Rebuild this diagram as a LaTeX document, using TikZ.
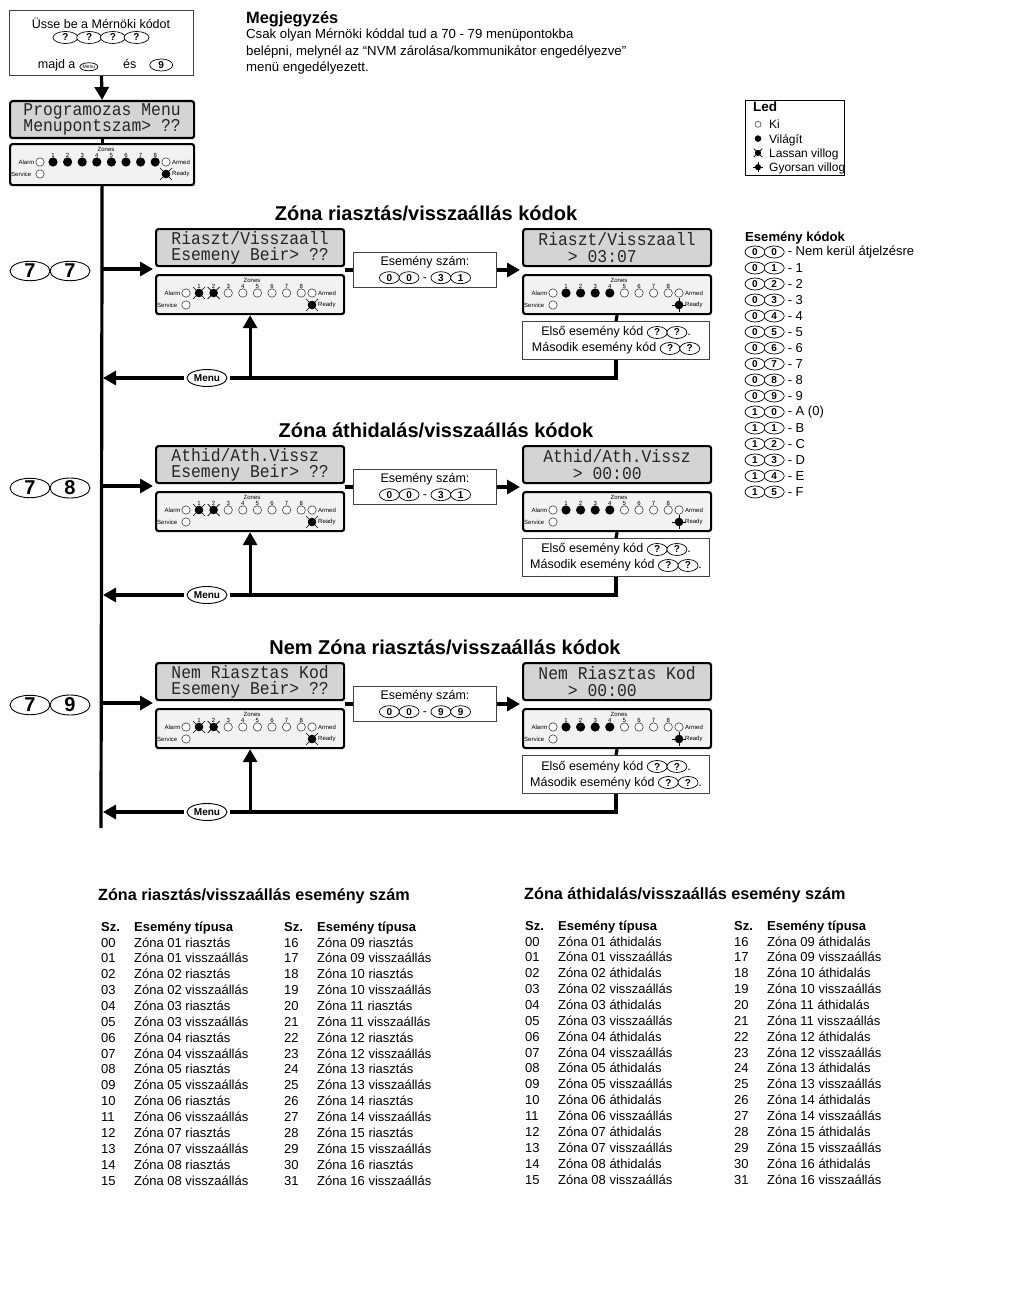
\documentclass[tikz,border=0pt]{standalone}
\usepackage{fontspec}
\setmainfont{Liberation Sans}
\newfontfamily\lcdfont[FakeStretch=0.91]{Liberation Mono}
\usetikzlibrary{arrows.meta, positioning, calc, shapes.geometric}

\definecolor{lcdgray}{HTML}{D4D4D4}
\definecolor{padgray}{HTML}{F2F2F2}

\tikzset{
  lcd/.style={draw, line width=2.2pt, rounded corners=2.5pt, fill=lcdgray, text=black!85, minimum width=188pt, minimum height=37pt, anchor=north west, inner sep=0pt, align=left, font=\lcdfont\fontsize{18}{16.5}\selectfont},
  kpad/.style={draw, line width=2.2pt, rounded corners=2.5pt, fill=padgray, minimum width=188pt, minimum height=39pt, anchor=north west, inner sep=0pt},
  infobox/.style={draw=black!75, line width=1pt, fill=white, anchor=north west, inner sep=0pt, align=center, font=\fontsize{12.5}{16}\selectfont},
  flow/.style={line width=3.2pt},
  flowarrow/.style={line width=3.2pt, -{Triangle[length=13pt,width=14pt]}},
  keyst/.style={draw, fill=white, ellipse, line width=0.7pt, inner sep=0pt, minimum width=20pt, minimum height=12pt, font=\fontsize{10}{10}\selectfont\bfseries},
  bigkey/.style={draw, ellipse, line width=0.9pt, inner sep=0pt, minimum width=40pt, minimum height=19pt, font=\fontsize{20}{20}\selectfont\bfseries},
  menukey/.style={draw, ellipse, line width=0.9pt, inner sep=0pt, minimum width=40pt, minimum height=17pt, fill=white, font=\fontsize{10}{10}\selectfont\bfseries},
  sectitle/.style={font=\fontsize{20}{22}\selectfont\bfseries},
  tinytxt/.style={font=\fontsize{6}{6}\selectfont, inner sep=0pt},
  legtxt/.style={font=\fontsize{13}{14}\selectfont, anchor=base west, inner sep=0pt},
  tabtitle/.style={font=\fontsize{16.2}{18}\selectfont\bfseries, anchor=base west, inner sep=0pt},
  tabhead/.style={font=\fontsize{13}{15}\selectfont\bfseries, anchor=base west, inner sep=0pt},
  tabtxt/.style={font=\fontsize{13}{15}\selectfont, anchor=base west, inner sep=0pt},
}

% key caps inside text
\newcommand{\keyc}[2][]{\tikz[baseline=(kc.base)]\node[keyst,#1](kc){#2};}

% led states
\newcommand{\ledoff}[1]{\draw[line width=0.6pt, draw=black!75, fill=white] #1 circle (4.2pt);}
\newcommand{\ledon}[1]{\fill #1 circle (4.6pt);}
\newcommand{\ledslow}[1]{\fill #1 circle (4.3pt);
  \draw[line width=0.6pt] #1 ++(-6pt,-6pt) -- ++(12pt,12pt) #1 ++(-6pt,6pt) -- ++(12pt,-12pt);}
\newcommand{\ledfast}[1]{\fill #1 circle (4.3pt);
  \draw[line width=0.6pt] #1 ++(-7pt,0pt) -- ++(14pt,0pt) #1 ++(0pt,-7pt) -- ++(0pt,14pt);}

% keypad led panel: [options] name, x, y, zones, ready
\newcommand{\kpanel}[6][]{%
  \begin{scope}[shift={(#3,#4)}]
    \node[kpad,#1] (#2) at (0,0) {};
    \node[tinytxt] at (97,6) {Zones};
    \foreach \z/\s in {#5} {
      \node[tinytxt] at ({44+14.6*(\z-1)},12.5) {\z};
      \csname led\s\endcsname{({44+14.6*(\z-1)},19)}
    }
    \node[tinytxt, anchor=east] at (25.5,19) {Alarm};
    \ledoff{(31,19)}
    \node[tinytxt, anchor=west] at (2,31) {Service};
    \ledoff{(31,31)}
    \ledoff{(157,19)}
    \node[tinytxt, anchor=west] at (163,19) {Armed};
    \csname led#6\endcsname{(157,31)}
    \node[tinytxt, anchor=west] at (163,31) {Ready};
  \end{scope}}

% one menu branch: id, y offset, title x, title, key, lcd text, time, upper range, end mark
\newcommand{\menusection}[9]{%
  \begin{scope}[shift={(0,#2)}]
    \node[sectitle] (title#1) at (#3,213) {#4};
    \node[bigkey] (keya#1) at (30,271) {7};
    \node[bigkey] (keyb#1) at (70,271) {#5};
    \node[lcd] (lcdin#1) at (155,228) {#6\\Esemeny Beir> ??};
    \kpanel{padin#1}{155}{274}{1/slow,2/slow,3/off,4/off,5/off,6/off,7/off,8/off}{slow}
    \node[infobox, minimum width=143pt, minimum height=35pt] (num#1) at (353,252)
      {Esemény szám:\\\keyc{0}\kern-1pt\keyc{0} - #8};
    \node[lcd] (lcdout#1) at (522,228) {#6\\\phantom{>>>}> #7};
    \kpanel{padout#1}{522}{274}{1/on,2/on,3/on,4/on,5/off,6/off,7/off,8/off}{fast}
    \node[infobox, minimum width=187pt, minimum height=38pt] (codes#1) at (522,321)
      {Első esemény kód \keyc{?}\kern-1pt\keyc{?}.\\Második esemény kód \keyc{?}\kern-1pt\keyc{?}#9};
    \node[menukey] (menu#1) at (207,378) {Menu};
    \coordinate (spinea#1) at (101,269);
    \coordinate (spineb#1) at (101,378);
    \draw[flowarrow, shorten >=2pt] (spinea#1) -- (spinea#1 -| lcdin#1.west);
    \draw[flow] (lcdin#1.east |- num#1.west) -- (num#1.west);
    \draw[flowarrow, shorten >=2pt] (num#1.east) -- (num#1.east -| lcdout#1.west);
    \draw[flow] (padout#1.south) -- (codes#1.north);
    \draw[flow, shorten >=3pt] (codes#1.south) |- (menu#1.east);
    \draw[flowarrow, shorten <=3pt, shorten >=2pt] (menu#1.west) -- (spineb#1);
    \draw[flowarrow] (padin#1.south |- menu#1) -- (padin#1.south);
  \end{scope}}

% event number table: title x, col1 x, col2 x, title y, word, title
\newcommand{\eventtable}[6]{%
  \node[tabtitle] at (#1,#4) {#6};
  \foreach \c/\cx in {0/#2,16/#3} {
    \node[tabhead] at (\cx,#4+31) {Sz.};
    \node[tabhead] at ({\cx+33},#4+31) {Esemény típusa};
    \foreach \r in {0,...,15} {
      \pgfmathtruncatemacro\num{\c+\r}
      \pgfmathtruncatemacro\zone{\num/2+1}
      \node[tabtxt] at (\cx,{#4+47+15.87*\r}) {\ifnum\num<10 0\fi\num};
      \node[tabtxt] at ({\cx+33},{#4+47+15.87*\r}) {Zóna \ifnum\zone<10 0\fi\zone\ \ifodd\num visszaállás\else #5\fi};
    }
  }}

\begin{document}
\begin{tikzpicture}[x=1pt, y=-1pt]
\fill[white] (0,0) rectangle (1024,1295);
\useasboundingbox (0,0) rectangle (1024,1295);

% entering the menu
\node[infobox, minimum width=184pt, minimum height=65pt] (entry) at (9,10) {};
\node[font=\fontsize{12.5}{15}\selectfont] (entrytxt) at (101,23) {Üsse be a Mérnöki kódot};
\node[inner sep=0pt] (entryq) at (101,37.5) {\keyc[minimum width=25pt]{?}\kern-2pt\keyc[minimum width=25pt]{?}\kern-2pt\keyc[minimum width=25pt]{?}\kern-2pt\keyc[minimum width=25pt]{?}};
\node[font=\fontsize{12.5}{15}\selectfont, inner sep=0pt] (entrykeys) at (105.5,65)
  {majd a\hspace{4pt}\keyc[minimum width=18pt, minimum height=8pt, font=\fontsize{5}{5}\selectfont]{Menu}\hspace{25pt}és\hspace{13pt}\keyc[minimum width=23pt]{9}};
\node[lcd, minimum width=184pt] (prog) at (9,100) {Programozas Menu\\Menupontszam> ??};
\kpanel[minimum width=184pt, minimum height=41pt]{pad0}{9}{143}{1/on,2/on,3/on,4/on,5/on,6/on,7/on,8/on}{slow}
\coordinate (spineend) at (101,828);
\draw[flowarrow] (entry.south) -- (prog.north);
\draw[flow] (prog.south) -- (pad0.north);
\draw[flow] (pad0.south) -- (spineend);

% note
\node[anchor=base west, inner sep=0pt, font=\fontsize{16.4}{18}\selectfont\bfseries] (notetitle) at (246,24) {Megjegyzés};
\node[anchor=north west, align=left, inner sep=0pt, font=\fontsize{13.2}{16.5}\selectfont] (notetext) at (246,29)
  {Csak olyan Mérnöki kóddal tud a 70 - 79 menüpontokba\\belépni, melynél az “NVM zárolása/kommunikátor engedélyezve”\\menü engedélyezett.};

% led legend
\node[draw, line width=0.8pt, minimum width=99pt, minimum height=75pt, inner sep=0pt, anchor=north west] (ledkey) at (745,100) {};
\node[legtxt, font=\fontsize{13.5}{14}\selectfont\bfseries] (ledkeytitle) at (753,112) {Led};
\foreach \s/\lab [count=\n] in {off/Ki, on/Világít, slow/Lassan villog, fast/Gyorsan villog} {
  \begin{scope}[shift={(758,{110+14.3*\n})}, scale=0.72]
    \csname led\s\endcsname{(0,0)}
  \end{scope}
  \node[legtxt, font=\fontsize{12}{14}\selectfont] (ledkey\s) at (769,{114.5+14.3*\n}) {\lab};
}

% event codes
\node[legtxt, font=\fontsize{13.1}{14}\selectfont\bfseries] (evcodes) at (745,241) {Esemény kódok};
\foreach \ka/\kb/\lab [count=\n from 0] in {0/0/Nem kerül átjelzésre, 0/1/1, 0/2/2, 0/3/3, 0/4/4, 0/5/5, 0/6/6, 0/7/7, 0/8/8, 0/9/9, 1/0/A (0), 1/1/B, 1/2/C, 1/3/D, 1/4/E, 1/5/F} {
  \node[keyst] (evka\n) at (755,{252+16*\n}) {\ka};
  \node[keyst, right=-1.5pt of evka\n] (evkb\n) {\kb};
  \node[legtxt, right=3pt of evkb\n] (evt\n) {- \lab};
}

% menu branches 77, 78, 79
\menusection{a}{0}{426}{Zóna riasztás/visszaállás kódok}{7}{Riaszt/Visszaall}{03:07}{\keyc{3}\kern-1pt\keyc{1}}{}
\menusection{b}{217}{436}{Zóna áthidalás/visszaállás kódok}{8}{Athid/Ath.Vissz}{00:00}{\keyc{3}\kern-1pt\keyc{1}}{.}
\menusection{c}{434}{445}{Nem Zóna riasztás/visszaállás kódok}{9}{Nem Riasztas Kod}{00:00}{\keyc{9}\kern-1pt\keyc{9}}{.}

% tables
\eventtable{98}{101}{284}{900}{riasztás}{Zóna riasztás/visszaállás esemény szám}
\eventtable{524}{525}{734}{899}{áthidalás}{Zóna áthidalás/visszaállás esemény szám}
\end{tikzpicture}
\end{document}
